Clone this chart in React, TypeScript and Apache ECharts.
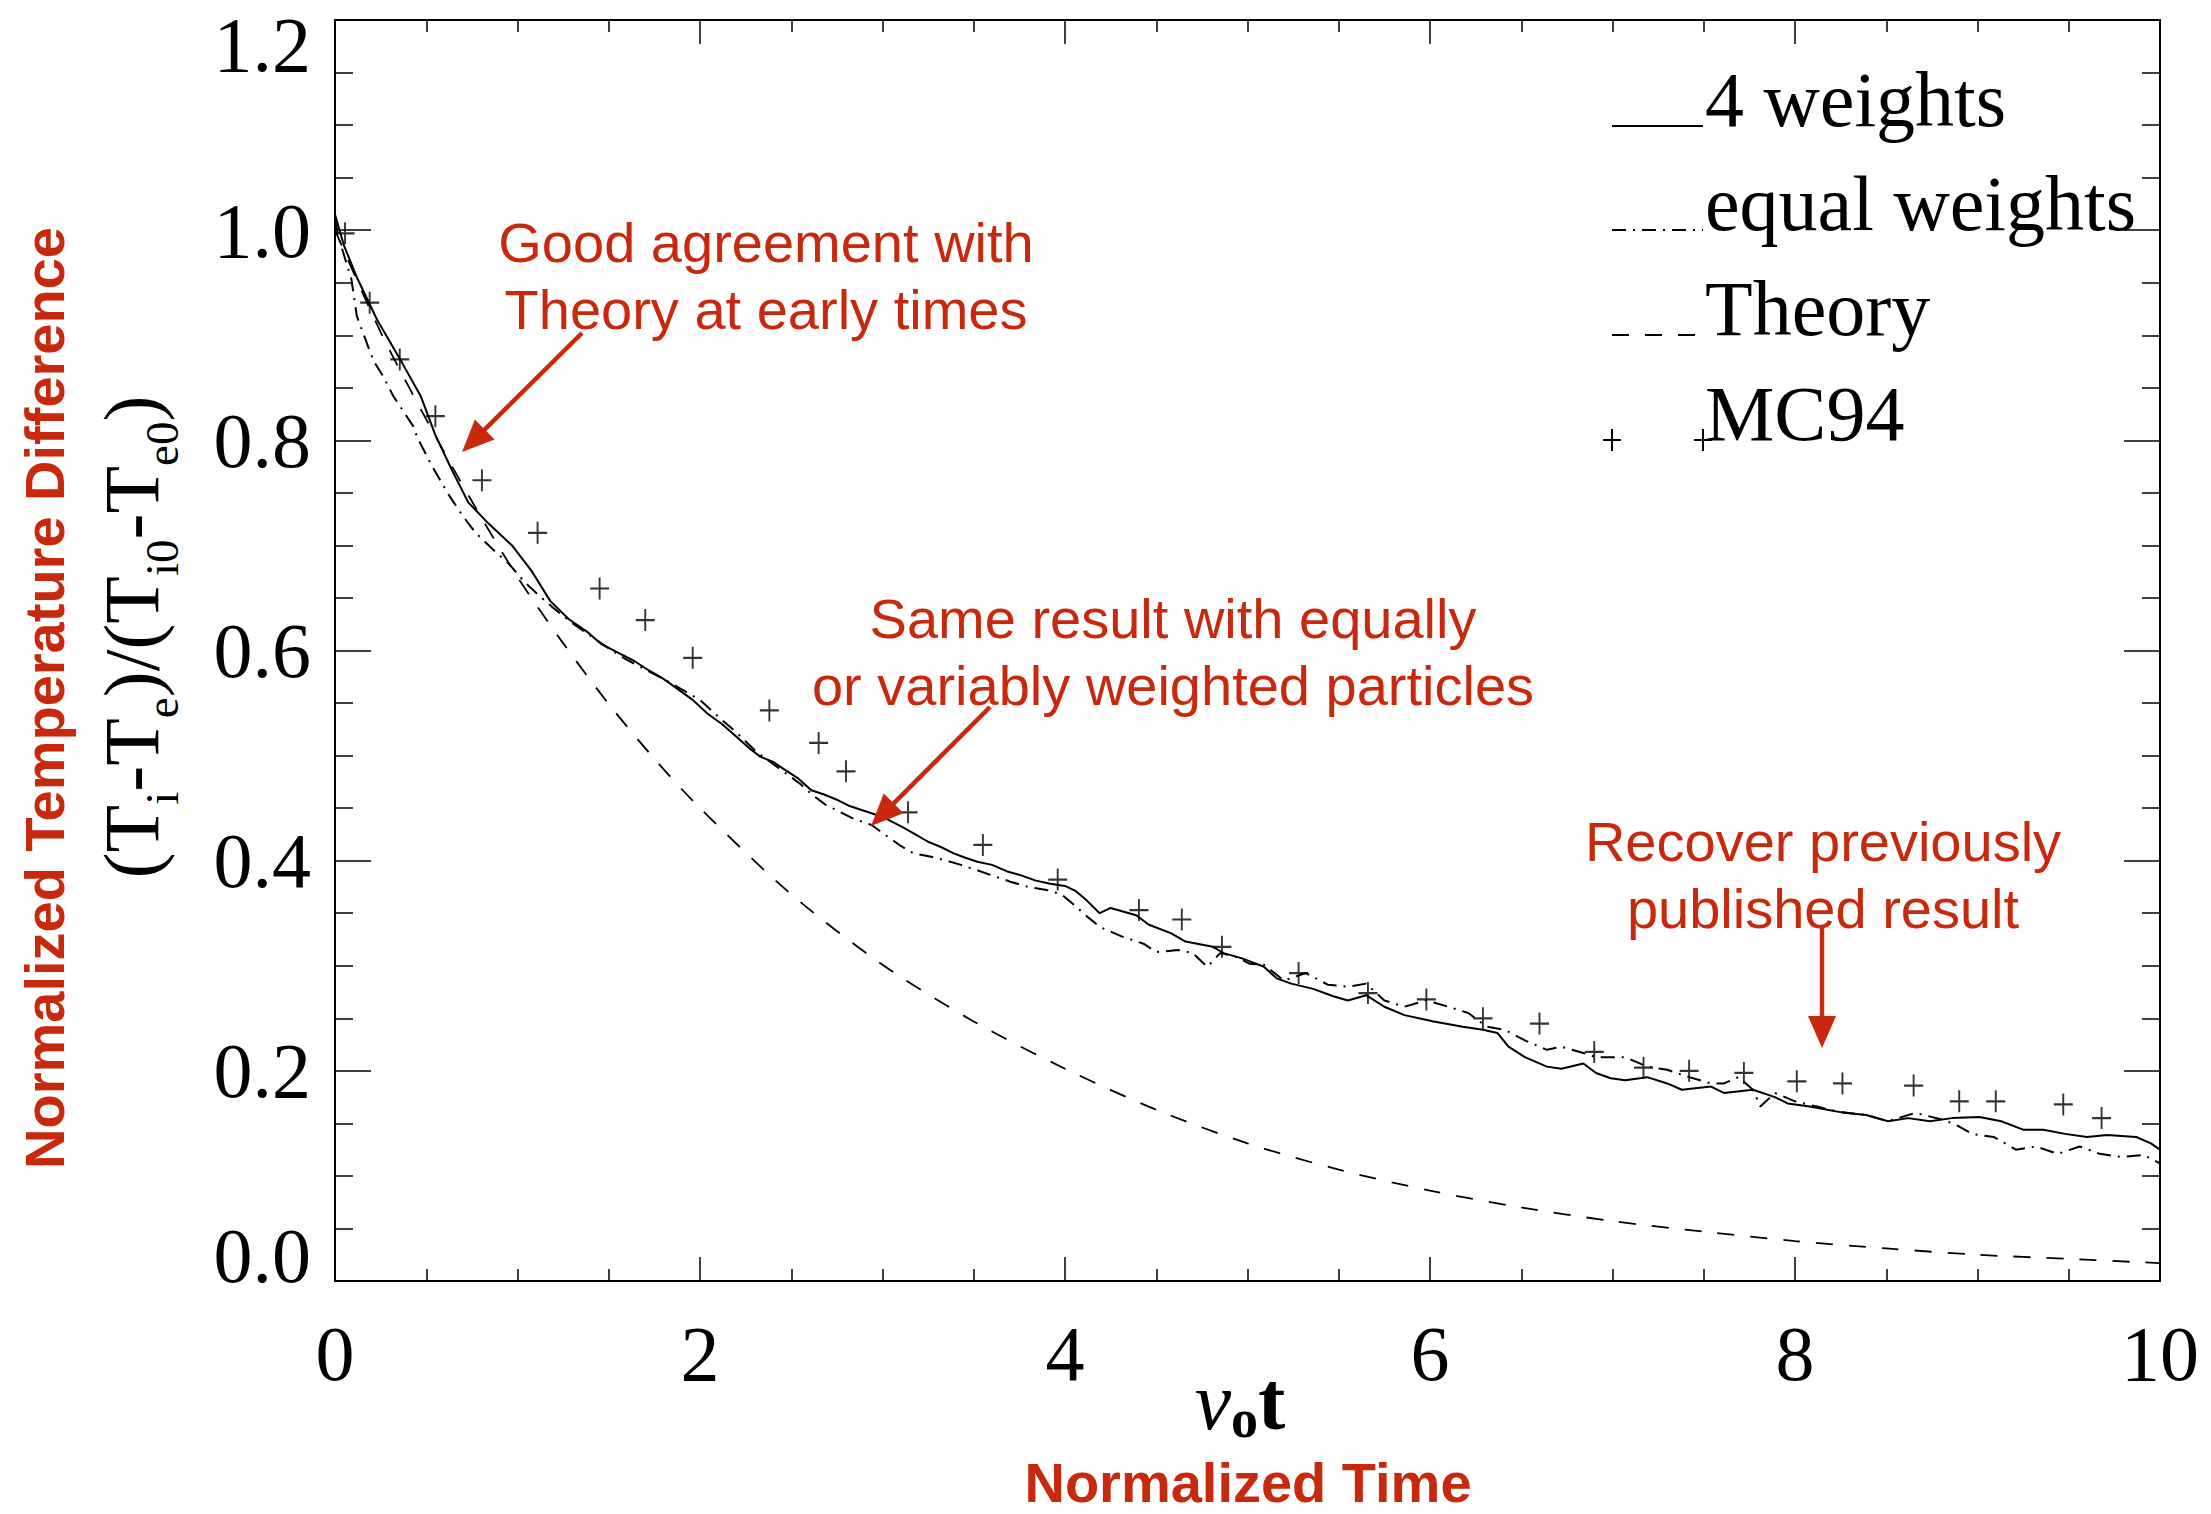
import React, { useEffect, useRef } from 'react';
import * as echarts from 'echarts';

// ---- data (t = nu_0 t, v = normalized temperature difference) ----
const X_TICKS = [0, 2, 4, 6, 8, 10];
const Y_TICKS = [0, 0.2, 0.4, 0.6, 0.8, 1.0, 1.2];

const FOUR_WEIGHTS: [number, number][] = [
  [0, 1.015], [0.05, 0.985], [0.12, 0.955], [0.23, 0.915], [0.37, 0.873], [0.47, 0.842], [0.55, 0.805],
  [0.64, 0.772], [0.73, 0.741], [0.84, 0.721], [0.97, 0.7], [1.08, 0.675], [1.18, 0.647], [1.28, 0.63],
  [1.38, 0.618], [1.46, 0.606], [1.55, 0.598], [1.64, 0.59], [1.72, 0.581], [1.8, 0.573], [1.88, 0.563],
  [1.96, 0.553], [2.04, 0.54], [2.12, 0.53], [2.2, 0.518], [2.27, 0.507], [2.33, 0.499], [2.4, 0.494],
  [2.47, 0.486], [2.54, 0.478], [2.61, 0.467], [2.68, 0.463], [2.75, 0.458], [2.82, 0.452], [2.89, 0.448],
  [2.96, 0.444], [3.03, 0.439], [3.11, 0.432], [3.18, 0.425], [3.25, 0.418], [3.32, 0.413], [3.39, 0.407],
  [3.45, 0.403], [3.52, 0.399], [3.6, 0.396], [3.68, 0.39], [3.76, 0.386], [3.84, 0.381], [3.92, 0.378],
  [4.0, 0.376], [4.06, 0.371], [4.12, 0.362], [4.19, 0.35], [4.25, 0.355], [4.39, 0.348], [4.46, 0.339],
  [4.58, 0.331], [4.66, 0.323], [4.81, 0.318], [4.87, 0.312], [4.97, 0.307], [5.09, 0.299], [5.16, 0.288],
  [5.24, 0.283], [5.36, 0.278], [5.47, 0.271], [5.55, 0.267], [5.65, 0.272], [5.75, 0.261], [5.86, 0.253],
  [6.02, 0.247], [6.18, 0.242], [6.29, 0.239], [6.37, 0.236], [6.43, 0.223], [6.52, 0.213], [6.64, 0.204],
  [6.72, 0.202], [6.84, 0.207], [6.91, 0.198], [6.99, 0.193], [7.07, 0.191], [7.19, 0.194], [7.3, 0.188],
  [7.38, 0.182], [7.54, 0.185], [7.61, 0.179], [7.77, 0.182], [7.89, 0.175], [7.96, 0.169], [8.08, 0.166],
  [8.27, 0.16], [8.39, 0.158], [8.51, 0.152], [8.62, 0.155], [8.74, 0.152], [8.86, 0.155], [9.01, 0.156],
  [9.13, 0.152], [9.25, 0.144], [9.36, 0.144], [9.48, 0.14], [9.6, 0.137], [9.71, 0.139], [9.87, 0.137],
  [9.95, 0.131], [10.0, 0.125],
];

const EQUAL_WEIGHTS: [number, number][] = [
  [0, 1.01], [0.02, 0.993], [0.09, 0.953], [0.12, 0.918], [0.21, 0.876], [0.26, 0.862], [0.32, 0.842],
  [0.43, 0.813], [0.45, 0.803], [0.53, 0.776], [0.62, 0.749], [0.7, 0.728], [0.77, 0.712], [0.86, 0.697],
  [0.95, 0.683], [1.04, 0.665], [1.12, 0.652], [1.2, 0.64], [1.3, 0.626], [1.4, 0.614], [1.5, 0.602],
  [1.6, 0.591], [1.7, 0.582], [1.8, 0.573], [1.9, 0.563], [2.0, 0.553], [2.1, 0.537], [2.2, 0.522],
  [2.3, 0.505], [2.4, 0.492], [2.48, 0.482], [2.55, 0.473], [2.62, 0.462], [2.69, 0.453], [2.76, 0.447],
  [2.84, 0.44], [2.94, 0.434], [3.02, 0.424], [3.1, 0.414], [3.17, 0.407], [3.26, 0.404], [3.35, 0.4],
  [3.43, 0.396], [3.5, 0.392], [3.6, 0.386], [3.7, 0.38], [3.8, 0.375], [3.9, 0.372], [3.98, 0.368],
  [4.05, 0.358], [4.12, 0.347], [4.19, 0.337], [4.31, 0.328], [4.43, 0.321], [4.5, 0.313], [4.62, 0.315],
  [4.7, 0.312], [4.78, 0.299], [4.85, 0.312], [4.93, 0.309], [5.01, 0.302], [5.09, 0.301], [5.2, 0.286],
  [5.32, 0.293], [5.44, 0.282], [5.55, 0.28], [5.65, 0.283], [5.75, 0.267], [5.86, 0.261], [5.98, 0.267],
  [6.1, 0.261], [6.21, 0.255], [6.31, 0.242], [6.41, 0.239], [6.52, 0.229], [6.64, 0.22], [6.72, 0.223],
  [6.84, 0.217], [6.91, 0.213], [7.07, 0.213], [7.19, 0.204], [7.3, 0.201], [7.42, 0.194], [7.54, 0.188],
  [7.61, 0.188], [7.69, 0.194], [7.77, 0.182], [7.81, 0.166], [7.89, 0.179], [8.0, 0.171], [8.12, 0.166],
  [8.24, 0.161], [8.39, 0.158], [8.51, 0.152], [8.66, 0.16], [8.82, 0.153], [8.9, 0.147], [8.97, 0.14],
  [9.09, 0.137], [9.21, 0.125], [9.32, 0.128], [9.44, 0.121], [9.56, 0.128], [9.67, 0.121], [9.79, 0.118],
  [9.91, 0.12], [10.0, 0.112],
];

const THEORY: [number, number][] = [
  [0, 1.0], [0.25, 0.903], [0.5, 0.82], [0.75, 0.742], [1.0, 0.67], [1.25, 0.607], [1.5, 0.549],
  [1.75, 0.497], [2.0, 0.45], [2.5, 0.368], [3.0, 0.301], [3.5, 0.247], [4.0, 0.202], [4.5, 0.163],
  [5.0, 0.131], [5.5, 0.106], [6.0, 0.086], [6.5, 0.07], [7.0, 0.057], [7.5, 0.047], [8.0, 0.038],
  [8.5, 0.031], [9.0, 0.025], [9.5, 0.021], [10.0, 0.017],
];

const MC94: [number, number][] = [
  [0.055, 0.997], [0.19, 0.931], [0.355, 0.877], [0.55, 0.823], [0.805, 0.762], [1.11, 0.712],
  [1.45, 0.659], [1.7, 0.629], [1.96, 0.593], [2.38, 0.543], [2.65, 0.512], [2.8, 0.485], [3.14, 0.446],
  [3.55, 0.415], [3.96, 0.382], [4.405, 0.353], [4.64, 0.344], [4.86, 0.318], [5.28, 0.293], [5.66, 0.274],
  [5.98, 0.268], [6.29, 0.25], [6.6, 0.245], [6.9, 0.218], [7.17, 0.203], [7.42, 0.2], [7.72, 0.198],
  [8.01, 0.19], [8.26, 0.188], [8.65, 0.186], [8.9, 0.171], [9.1, 0.171], [9.47, 0.168], [9.68, 0.155],
];

const LEGEND_LABELS = ['4 weights', 'equal weights', 'Theory', 'MC94'];
const ANNOTATIONS = [
  'Good agreement with\nTheory at early times',
  'Same result with equally\nor variably weighted particles',
  'Recover previously\npublished result',
];

// ---- styling ----
const RED = '#C8280C';
const SERIF = '"Liberation Serif", "Times New Roman", serif';
const SANS = '"Liberation Sans", Arial, sans-serif';
const DASH_DOT = [14, 7, 2, 7];
const DASHED = [17, 16];
const PLUS = 'path://M9,0H11V9H20V11H11V20H9V11H0V9H9Z';

function arrow(x1: number, y1: number, x2: number, y2: number) {
  const dx = x2 - x1, dy = y2 - y1;
  const len = Math.hypot(dx, dy);
  const ux = dx / len, uy = dy / len;
  const L = 32, W = 14;
  const bx = x2 - ux * L, by = y2 - uy * L;
  const nx = -uy, ny = ux;
  return [
    { type: 'line', shape: { x1, y1, x2: bx + ux * 2, y2: by + uy * 2 }, style: { stroke: RED, lineWidth: 4.5 }, z: 50 },
    {
      type: 'polygon',
      shape: { points: [[x2, y2], [bx + nx * W, by + ny * W], [bx - nx * W, by - ny * W]] },
      style: { fill: RED },
      z: 50,
    },
  ];
}

function buildOption() {
  const axisLine = { show: true, onZero: false, lineStyle: { color: '#000', width: 2 } };
  const xCommon = {
    type: 'value', min: 0, max: 10, interval: 2, gridIndex: 0,
    axisLine,
    axisTick: { show: true, inside: true, length: 24, lineStyle: { color: '#000', width: 1.5 } },
    minorTick: { show: true, splitNumber: 4, length: 12, lineStyle: { color: '#000', width: 1.5 } },
    splitLine: { show: false },
    minorSplitLine: { show: false },
  };
  const yCommon = {
    type: 'value', min: 0, max: 1.2, interval: 0.2, gridIndex: 0,
    axisLine,
    axisTick: { show: true, inside: true, length: 36, lineStyle: { color: '#000', width: 1.5 } },
    minorTick: { show: true, splitNumber: 4, length: 18, lineStyle: { color: '#000', width: 1.5 } },
    splitLine: { show: false },
    minorSplitLine: { show: false },
  };
  const tickFont = { fontFamily: SERIF, fontSize: 78, color: '#000', lineHeight: 78 };

  const graphics: any[] = [];
  // legend (drawn by hand to put the sample line on the text baseline)
  const lx1 = 1612, lx2 = 1703;
  const rows = [126, 230, 335, 440];
  graphics.push({ type: 'line', shape: { x1: lx1, y1: rows[0], x2: lx2, y2: rows[0] }, style: { stroke: '#000', lineWidth: 2 } });
  graphics.push({ type: 'line', shape: { x1: lx1, y1: rows[1], x2: lx2, y2: rows[1] }, style: { stroke: '#000', lineWidth: 2, lineDash: DASH_DOT } });
  graphics.push({ type: 'line', shape: { x1: lx1, y1: rows[2], x2: lx2, y2: rows[2] }, style: { stroke: '#000', lineWidth: 2, lineDash: DASHED } });
  [lx1, lx2].forEach((px) => {
    graphics.push({ type: 'line', shape: { x1: px - 9, y1: rows[3], x2: px + 9, y2: rows[3] }, style: { stroke: '#000', lineWidth: 2 } });
    graphics.push({ type: 'line', shape: { x1: px, y1: rows[3] - 11, x2: px, y2: rows[3] + 11 }, style: { stroke: '#000', lineWidth: 2 } });
  });
  LEGEND_LABELS.forEach((lab, i) => {
    graphics.push({
      type: 'text', x: 1705, y: rows[i] - 26.5,
      style: { text: lab, fill: '#000', fontFamily: SERIF, fontSize: 78, align: 'left', verticalAlign: 'middle' },
    });
  });

  // annotations
  const annPos = [[766, 276], [1173, 652], [1823, 875]];
  ANNOTATIONS.forEach((t, i) => {
    graphics.push({
      type: 'text', x: annPos[i][0], y: annPos[i][1], z: 50,
      style: { text: t, fill: RED, fontFamily: SANS, fontSize: 56, lineHeight: 67, align: 'center', verticalAlign: 'middle' },
    });
  });
  graphics.push(...arrow(582, 333, 462, 452));
  graphics.push(...arrow(990, 707, 871, 826));
  graphics.push(...arrow(1822, 928, 1822, 1048));

  // axis titles
  graphics.push({
    type: 'text', x: 44, y: 698, rotation: Math.PI / 2,
    style: { text: 'Normalized Temperature Difference', fill: RED, fontFamily: SANS, fontWeight: 'bold', fontSize: 56, align: 'center', verticalAlign: 'middle' },
  });
  graphics.push({
    type: 'text', x: 131, y: 637, rotation: Math.PI / 2,
    style: {
      text: '{m|(T}{s|i}{m|-T}{s|e}{m|)/(T}{s|i0}{m|-T}{s|e0}{m|)}',
      align: 'center', verticalAlign: 'middle',
      rich: {
        m: { fontFamily: SERIF, fontSize: 78, lineHeight: 80, fill: '#000' },
        s: { fontFamily: SERIF, fontSize: 47, lineHeight: 47, padding: [61, 0, 0, 0], fill: '#000' },
      },
    },
  });
  graphics.push({
    type: 'text', x: 1240, y: 1401,
    style: {
      text: '{n|ν}{o|o}{t|t}',
      align: 'center', verticalAlign: 'middle',
      rich: {
        n: { fontFamily: SERIF, fontStyle: 'italic', fontSize: 82, lineHeight: 84, fill: '#000' },
        o: { fontFamily: SERIF, fontWeight: 'bold', fontSize: 54, lineHeight: 54, padding: [36, 0, 0, 0], fill: '#000' },
        t: { fontFamily: SERIF, fontWeight: 'bold', fontSize: 82, lineHeight: 84, fill: '#000' },
      },
    },
  });
  graphics.push({
    type: 'text', x: 1248, y: 1482,
    style: { text: 'Normalized Time', fill: RED, fontFamily: SANS, fontWeight: 'bold', fontSize: 56, lineHeight: 40, align: 'center', verticalAlign: 'middle' },
  });

  return {
    animation: false,
    backgroundColor: '#fff',
    grid: { left: 335, right: 51, top: 20, bottom: 233, containLabel: false, outerBoundsMode: 'none' },
    xAxis: [
      {
        ...xCommon, position: 'bottom',
        axisLabel: {
          ...tickFont, margin: 33, showMinLabel: true, showMaxLabel: true,
          formatter: (v: number) => (X_TICKS.some((t) => Math.abs(t - v) < 1e-6) ? String(Math.round(v)) : ''),
        },
      },
      { ...xCommon, position: 'top', axisLabel: { show: false } },
    ],
    yAxis: [
      {
        ...yCommon, position: 'left',
        axisLabel: {
          ...tickFont, margin: 24, showMinLabel: true, showMaxLabel: true,
          formatter: (v: number) => {
            if (!Y_TICKS.some((t) => Math.abs(t - v) < 1e-6)) return '';
            const s = v.toFixed(1);
            if (Math.abs(v - 1.2) < 1e-6) return '{hi|' + s + '}';
            if (Math.abs(v) < 1e-6) return '{lo|' + s + '}';
            return s;
          },
          rich: {
            hi: { fontFamily: SERIF, fontSize: 78, lineHeight: 46, color: '#000', padding: [48, 0, 0, 0] },
            lo: { fontFamily: SERIF, fontSize: 78, lineHeight: 78, color: '#000', padding: [0, 0, 52, 0] },
          },
        },
      },
      { ...yCommon, position: 'right', axisLabel: { show: false } },
    ],
    series: [
      {
        name: '4 weights', type: 'line', xAxisIndex: 0, yAxisIndex: 0, data: FOUR_WEIGHTS,
        showSymbol: false, symbol: 'none', lineStyle: { color: '#000', width: 2, type: 'solid' }, z: 3,
      },
      {
        name: 'equal weights', type: 'line', xAxisIndex: 0, yAxisIndex: 0, data: EQUAL_WEIGHTS,
        showSymbol: false, symbol: 'none', lineStyle: { color: '#000', width: 2, type: DASH_DOT }, z: 3,
      },
      {
        name: 'Theory', type: 'line', xAxisIndex: 0, yAxisIndex: 0, data: THEORY, smooth: 0.3,
        showSymbol: false, symbol: 'none', lineStyle: { color: '#000', width: 1.8, type: DASHED }, z: 3,
      },
      {
        name: 'MC94', type: 'scatter', xAxisIndex: 0, yAxisIndex: 0, data: MC94,
        symbol: PLUS, symbolSize: [19, 22], itemStyle: { color: '#000' }, z: 4,
      },
    ],
    graphic: { elements: graphics },
  };
}

export default function App() {
  const ref = useRef<HTMLDivElement>(null);
  useEffect(() => {
    if (!ref.current) return;
    const chart = echarts.init(ref.current, null, { renderer: 'svg' });
    chart.setOption(buildOption() as any);
    return () => chart.dispose();
  }, []);
  return (
    <div
      ref={ref}
      style={{ position: 'absolute', left: 0, top: 0, width: 2211, height: 1514, background: '#fff' }}
    />
  );
}
